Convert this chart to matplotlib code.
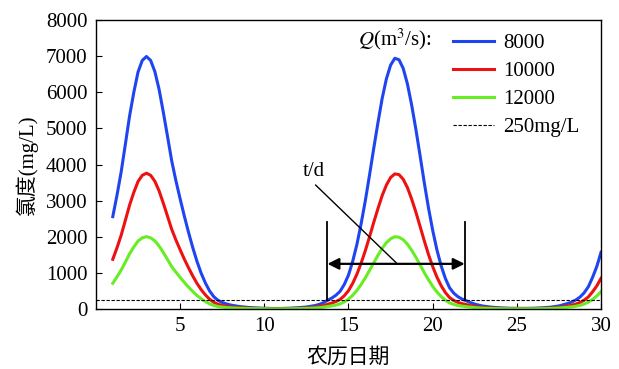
import matplotlib
matplotlib.use("Agg")
import matplotlib.pyplot as plt

plt.rcParams['font.family'] = ['Liberation Serif', 'Noto Sans CJK SC']
plt.rcParams['mathtext.fontset'] = 'stix'

# lunar-calendar day (finer steps where the curves bend)
days = [1.0, 1.25, 1.5, 1.75, 2.0, 2.25, 2.5, 2.75, 3.0, 3.25, 3.5, 3.75, 4.0, 4.25,
        4.5, 4.75, 5.0, 5.25, 5.5, 5.75, 6.0, 6.25, 6.5, 6.75, 7.0, 7.25, 7.5, 7.75,
        8.0,
        8.5, 9.0, 9.5, 10.0, 10.5, 11.0, 11.5, 12.0, 12.5,
        13.0, 13.25, 13.5, 13.75, 14.0, 14.25, 14.5, 14.75, 15.0, 15.25, 15.5,
        15.75, 16.0, 16.25, 16.5, 16.75, 17.0, 17.25, 17.5, 17.75, 18.0, 18.25,
        18.5, 18.75, 19.0, 19.25, 19.5, 19.75, 20.0, 20.25, 20.5, 20.75, 21.0,
        21.25, 21.5, 21.75, 22.0, 22.25, 22.5, 22.75, 23.0,
        23.5, 24.0, 24.5, 25.0, 25.5, 26.0, 26.5, 27.0, 27.5,
        28.0, 28.25, 28.5, 28.75, 29.0, 29.25, 29.5, 29.75, 30.0]

# chlorinity (mg/L) for Q = 8000, 10000, 12000 m3/s
cl_8000 = [2557, 3150, 3800, 4570, 5350, 6000, 6560, 6880, 6990, 6880, 6570, 6080,
           5450, 4780, 4100, 3550, 3050, 2570, 2120, 1700, 1320, 990, 720, 500, 340,
           240, 180, 140, 110,
           70, 45, 30, 20, 15, 15, 22, 35, 55,
           95, 125, 170, 240, 300, 380, 490, 680, 940, 1320, 1790, 2360, 3000, 3710,
           4450, 5160, 5830, 6370, 6750, 6940, 6900, 6660, 6230, 5650, 4980, 4250,
           3500, 2800, 2180, 1640, 1200, 850, 590, 440, 340, 275, 225, 175, 135,
           105, 80,
           50, 32, 22, 18, 18, 22, 32, 50, 85,
           150, 190, 250, 330, 450, 620, 880, 1180, 1570]
cl_10000 = [1376, 1695, 2045, 2460, 2880, 3230, 3530, 3700, 3760, 3700, 3535, 3270,
            2930, 2570, 2205, 1910, 1640, 1380, 1140, 915, 710, 535, 390, 270, 185,
            130, 97, 75, 59,
            38, 24, 16, 11, 8, 8, 12, 19, 30,
            51, 67, 92, 129, 162, 205, 264, 367, 507, 711, 965, 1270, 1617, 2000,
            2400, 2780, 3140, 3430, 3640, 3740, 3720, 3590, 3360, 3045, 2685, 2290,
            1890, 1510, 1175, 885, 647, 458, 318, 237, 183, 148, 121, 94, 73, 57, 43,
            27, 17, 12, 10, 10, 12, 17, 27, 46,
            81, 103, 135, 180, 245, 337, 478, 642, 850]
cl_12000 = [712, 890, 1080, 1300, 1530, 1720, 1880, 1970, 2003, 1970, 1885, 1745,
            1565, 1370, 1175, 1020, 875, 735, 605, 485, 375, 283, 205, 143, 98,
            69, 52, 40, 32,
            20, 13, 9, 6, 4, 4, 6, 10, 16,
            27, 36, 49, 69, 86, 109, 141, 196, 271, 380, 515, 680, 864, 1068,
            1282, 1486, 1680, 1835, 1945, 2000, 1987, 1918, 1795, 1627, 1434, 1224,
            1008, 809, 628, 472, 346, 245, 170, 127, 98, 79, 65, 50, 39, 30, 23,
            15, 9, 6, 5, 5, 6, 9, 15, 26,
            46, 58, 77, 101, 138, 190, 270, 360, 480]

series = [("8000", cl_8000, "#1f45f0"),
          ("10000", cl_10000, "#ee1111"),
          ("12000", cl_12000, "#66ee22")]

limit = 250          # mg/L standard
t_start, t_end = 13.75, 21.9   # over-limit window of the second peak

fig = plt.figure(figsize=(6.19, 3.69), dpi=100)
ax = fig.add_axes([0.155, 0.1626, 0.816, 0.7832])

for name, vals, col in series:
    ax.plot(days, vals, color=col, lw=2.2, label=name)
ax.axhline(limit, color='black', lw=0.8, ls=(0, (3, 1.5)), label='250mg/L')

# duration marker
ax.plot([t_start, t_start], [limit, 2400], color='black', lw=1.3)
ax.plot([t_end, t_end], [limit, 2400], color='black', lw=1.3)
ax.annotate('', xy=(t_start, 1250), xytext=(t_end, 1250),
            arrowprops=dict(arrowstyle='<|-|>', color='black', lw=1.6,
                            mutation_scale=17, shrinkA=0, shrinkB=0))
ax.plot([13.05, 17.9], [3430, 1250], color='black', lw=1.0)
ax.text(12.95, 3820, 't/d', fontsize=15, ha='center', va='center')

ax.set_xlim(0, 30)
ax.set_ylim(0, 8000)
ax.set_xticks([5, 10, 15, 20, 25, 30])
ax.set_yticks(range(0, 8001, 1000))
ax.tick_params(direction='in', length=4, labelsize=15, pad=6)
for s in ax.spines.values():
    s.set_linewidth(1.0)

ax.set_xlabel('农历日期', fontsize=15, labelpad=8)
ax.set_ylabel('氯度(mg/L)', fontsize=15, labelpad=6)

ax.text(0.665, 0.935, r'$Q$(m$^3$/s):', transform=ax.transAxes, fontsize=15,
        ha='right', va='center')
ax.legend(loc='upper left', bbox_to_anchor=(0.68, 1.0), frameon=False,
          fontsize=15, handlelength=1.95, handletextpad=0.45, labelspacing=0.4,
          borderaxespad=0.25)

fig.savefig('out.png', dpi=100)
